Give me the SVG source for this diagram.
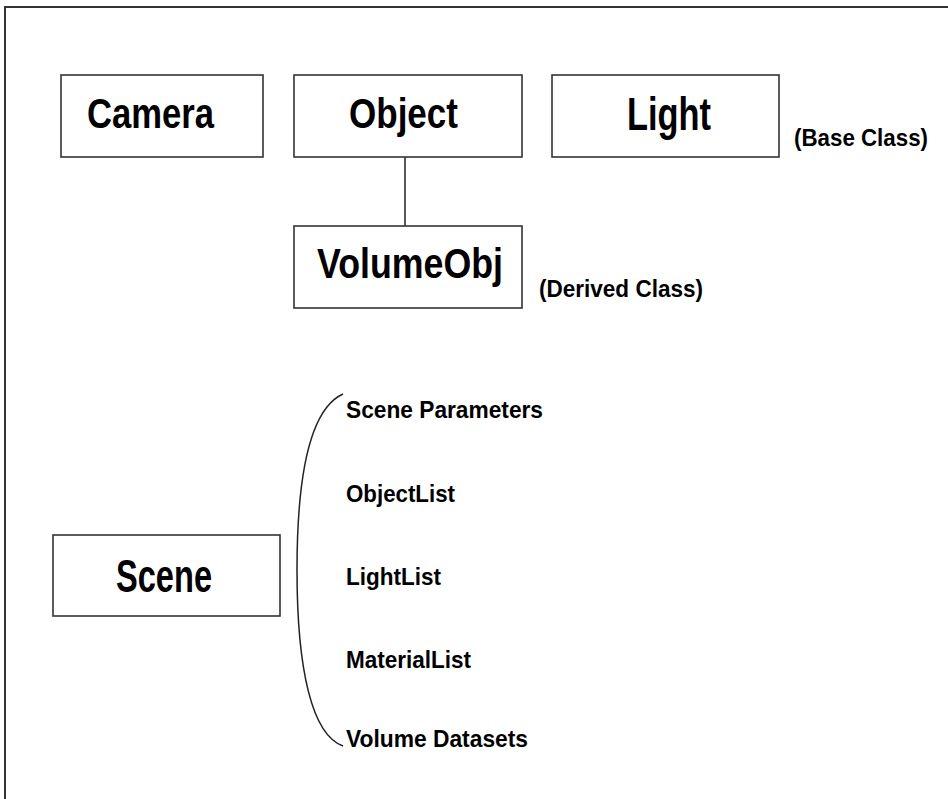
<svg xmlns="http://www.w3.org/2000/svg" width="948" height="799" viewBox="0 0 948 799">
<style>
.box{fill:#fff;stroke:#333;stroke-width:1.6}
.big{font-family:"Liberation Sans",Arial,sans-serif;font-weight:bold;fill:#000}
.sm{font-family:"Liberation Sans",Arial,sans-serif;font-weight:bold;fill:#000;font-size:24px}
.line{fill:none;stroke:#222;stroke-width:1.5}
</style>
<rect x="0" y="0" width="948" height="799" fill="#fff"/>
<rect x="5" y="7" width="960" height="820" fill="none" stroke="#333" stroke-width="2"/>
<g id="connectors">
<line class="line" x1="405" y1="157" x2="405" y2="226"/>
<path class="line" d="M343,394 C312,408 297,470 297,570 C297,670 312,735 343,746"/>
</g>
<g id="camera">
<rect class="box" x="61" y="75" width="202" height="82"/>
<text class="big" x="87" y="128" font-size="43" textLength="127" lengthAdjust="spacingAndGlyphs">Camera</text>
</g>
<g id="object">
<rect class="box" x="294" y="75" width="228" height="82"/>
<text class="big" x="349" y="128" font-size="43" textLength="109" lengthAdjust="spacingAndGlyphs">Object</text>
</g>
<g id="light">
<rect class="box" x="552" y="75" width="227" height="82"/>
<text class="big" x="627" y="130" font-size="46" textLength="84" lengthAdjust="spacingAndGlyphs">Light</text>
</g>
<g id="base-class-label">
<text class="sm" x="794" y="146" font-size="23" textLength="134" lengthAdjust="spacingAndGlyphs">(Base Class)</text>
</g>
<g id="volumeobj">
<rect class="box" x="294" y="226" width="228" height="82"/>
<text class="big" x="317" y="278" font-size="43" textLength="186" lengthAdjust="spacingAndGlyphs">VolumeObj</text>
</g>
<g id="derived-class-label">
<text class="sm" x="539" y="297" font-size="23" textLength="164" lengthAdjust="spacingAndGlyphs">(Derived Class)</text>
</g>
<g id="scene">
<rect class="box" x="53" y="535" width="227" height="81"/>
<text class="big" x="116" y="592" font-size="46" textLength="96" lengthAdjust="spacingAndGlyphs">Scene</text>
</g>
<g id="scene-members">
<text class="sm" x="346" y="418" textLength="197" lengthAdjust="spacingAndGlyphs">Scene Parameters</text>
<text class="sm" x="346" y="502" textLength="109" lengthAdjust="spacingAndGlyphs">ObjectList</text>
<text class="sm" x="346" y="585" textLength="95" lengthAdjust="spacingAndGlyphs">LightList</text>
<text class="sm" x="346" y="668" textLength="125" lengthAdjust="spacingAndGlyphs">MaterialList</text>
<text class="sm" x="346" y="747" textLength="182" lengthAdjust="spacingAndGlyphs">Volume Datasets</text>
</g>
</svg>
